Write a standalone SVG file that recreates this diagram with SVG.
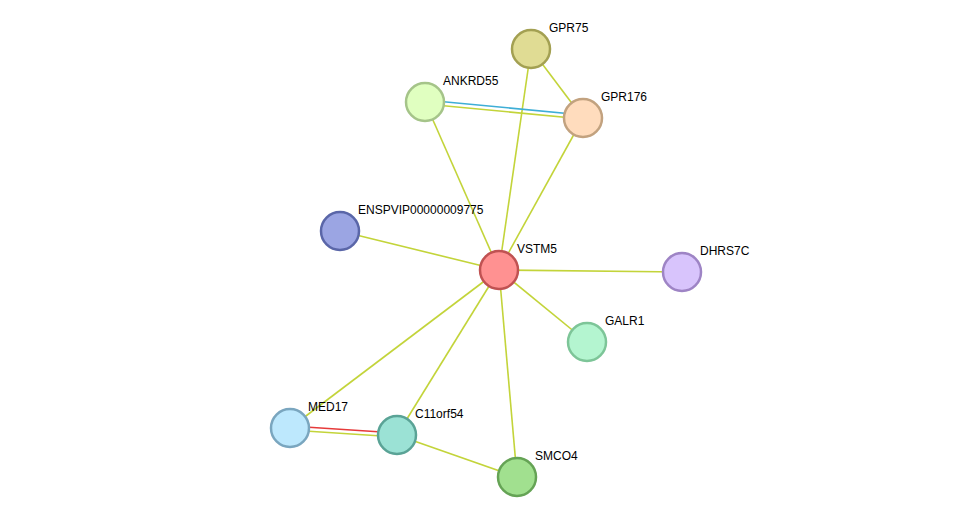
<svg xmlns="http://www.w3.org/2000/svg" width="976" height="523" viewBox="0 0 976 523">
<style>
.e{stroke:#c3d43a;stroke-width:1.6;fill:none}
.n circle{stroke-width:2.5}
text{font-family:"Liberation Sans",Arial,sans-serif;font-size:12px;fill:#000}
</style>
<rect width="976" height="523" fill="#fff"/>
<g id="connectors">
<line class="e" x1="531" y1="49" x2="583" y2="118"/>
<line class="e" x1="531" y1="49" x2="499" y2="270"/>
<line x1="425" y1="100" x2="583" y2="115" stroke="#3eaed6" stroke-width="1.6"/>
<line class="e" x1="425" y1="104" x2="583" y2="119"/>
<line class="e" x1="425" y1="102" x2="499" y2="270"/>
<line class="e" x1="583" y1="118" x2="499" y2="270"/>
<line class="e" x1="340" y1="231" x2="499" y2="270"/>
<line class="e" x1="499" y1="270" x2="682" y2="272"/>
<line class="e" x1="499" y1="270" x2="587" y2="342"/>
<line class="e" x1="499" y1="270" x2="290" y2="428"/>
<line class="e" x1="499" y1="270" x2="397" y2="435"/>
<line class="e" x1="499" y1="270" x2="517" y2="477"/>
<line x1="290" y1="426" x2="397" y2="433" stroke="#e63a3a" stroke-width="1.6"/>
<line class="e" x1="290" y1="430" x2="397" y2="437"/>
<line class="e" x1="397" y1="435" x2="517" y2="477"/>
</g>
<g id="GPR75" class="n"><circle cx="531" cy="49" r="19" fill="#e0dc94" stroke="#a3a052"/><text x="549" y="32">GPR75</text></g>
<g id="ANKRD55" class="n"><circle cx="425" cy="102" r="19" fill="#e0ffc0" stroke="#a5c489"/><text x="443" y="85">ANKRD55</text></g>
<g id="GPR176" class="n"><circle cx="583" cy="118" r="19" fill="#ffdcbd" stroke="#c2a27f"/><text x="601" y="101">GPR176</text></g>
<g id="ENSPVIP00000009775" class="n"><circle cx="340" cy="231" r="19" fill="#9ba5e3" stroke="#5a66a8"/><text x="358" y="214">ENSPVIP00000009775</text></g>
<g id="VSTM5" class="n"><circle cx="499" cy="270" r="19" fill="#ff9191" stroke="#c05252"/><text x="517" y="253">VSTM5</text></g>
<g id="DHRS7C" class="n"><circle cx="682" cy="272" r="19" fill="#d8c4fc" stroke="#9e84c5"/><text x="700" y="255">DHRS7C</text></g>
<g id="GALR1" class="n"><circle cx="587" cy="342" r="19" fill="#b4f5d0" stroke="#7dc598"/><text x="605" y="325">GALR1</text></g>
<g id="MED17" class="n"><circle cx="290" cy="428" r="19" fill="#bde8fd" stroke="#7aa6bf"/><text x="308" y="411">MED17</text></g>
<g id="C11orf54" class="n"><circle cx="397" cy="435" r="19" fill="#9be2d5" stroke="#5aa396"/><text x="415" y="418">C11orf54</text></g>
<g id="SMCO4" class="n"><circle cx="517" cy="477" r="19" fill="#a1e08f" stroke="#65a355"/><text x="535" y="460">SMCO4</text></g>
</svg>
